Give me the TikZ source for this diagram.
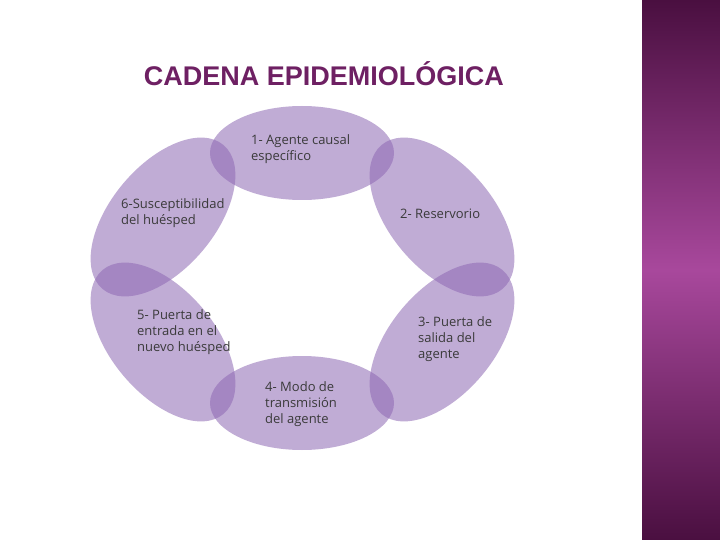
\documentclass[tikz,border=0pt]{standalone}
\usepackage{fontspec}
\setmainfont{Open Sans}
\newfontfamily\titlefont{Liberation Sans}
\begin{document}
\begin{tikzpicture}[x=1pt,y=-1pt,
  petal/.style={fill=petalc,fill opacity=0.55,draw=none},
  lbl/.style={anchor=north west,align=left,text=txtc,font=\fontsize{13}{16}\selectfont,inner sep=0pt}]
\definecolor{petalc}{HTML}{8E68B4}
\definecolor{txtc}{HTML}{3A3A3A}
\definecolor{bandtop}{HTML}{4A0F40}
\definecolor{bandmid}{HTML}{A8489C}
\definecolor{titlec}{HTML}{6E2063}
\useasboundingbox (0,0) rectangle (720,540);
\fill[white] (0,0) rectangle (720,540);
\shade[top color=bandtop,bottom color=bandmid] (642,0) rectangle (720,270);
\shade[top color=bandmid,bottom color=bandtop] (642,270) rectangle (720,540);
\node[font=\titlefont\bfseries\fontsize{27}{29}\selectfont,text=titlec,draw=titlec!70!black,inner sep=0pt,draw=none] (title) at (324,74) {CADENA EPIDEMIOLÓGICA};
\fill[petal] (302,153) ellipse [x radius=92,y radius=47];
\fill[petal] (302,403) ellipse [x radius=92,y radius=47];
\fill[petal,rotate around={-50:(442,217)}] (442,217) ellipse [x radius=94,y radius=52];
\fill[petal,rotate around={50:(442,342)}] (442,342) ellipse [x radius=94,y radius=52];
\fill[petal,rotate around={50:(163,217)}] (163,217) ellipse [x radius=94,y radius=52];
\fill[petal,rotate around={-50:(163,342)}] (163,342) ellipse [x radius=94,y radius=52];
\node[lbl] (t1) at (251,134) {1- Agente causal\\específico};
\node[lbl] (t2) at (400,209) {2- Reservorio};
\node[lbl] (t3) at (418,316) {3- Puerta de\\salida del\\agente};
\node[lbl] (t4) at (265,381) {4- Modo de\\transmisión\\del agente};
\node[lbl] (t5) at (137,309) {5- Puerta de\\entrada en el\\nuevo huésped};
\node[lbl] (t6) at (121,198) {6-Susceptibilidad\\del huésped};
\end{tikzpicture}
\end{document}
